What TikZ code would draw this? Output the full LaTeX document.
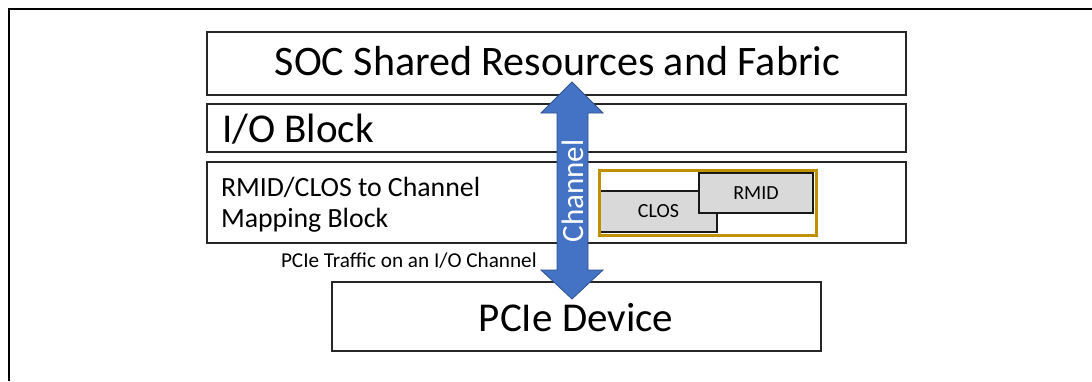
\documentclass[tikz,border=0pt]{standalone}
\usepackage{fontspec}
\setmainfont{Carlito}
\definecolor{arrowblue}{HTML}{4472C4}
\definecolor{arrowedge}{HTML}{2F528F}
\definecolor{goldline}{HTML}{BF9000}
\definecolor{tagfill}{HTML}{D9D9D9}
\begin{document}
\begin{tikzpicture}[x=1pt,y=-1pt,
  blockbox/.style={draw=black!85, line width=1.4pt, fill=white, inner sep=0pt, outer sep=0pt},
  tagbox/.style={draw=black!90, line width=1.3pt, fill=tagfill, inner sep=0pt, outer sep=0pt, font=\fontsize{20}{24}\selectfont},
  goldbox/.style={draw=goldline, line width=3pt, inner sep=0pt},
  txt/.style={inner sep=0pt, outer sep=0pt, text=black},
  bigtxt/.style={txt, font=\fontsize{41}{49}\selectfont}]
\useasboundingbox (0,0) rectangle (1092,381);
% outer frame
\draw[line width=2.5pt] (9,381) -- (9,9) -- (1092,9);
% blocks
\node[blockbox, minimum width=699pt, minimum height=63pt] (soc) at (556.5,63.5) {};
\node[blockbox, minimum width=699pt, minimum height=48pt] (io) at (556.5,128) {};
\node[blockbox, minimum width=699pt, minimum height=81pt] (map) at (556.5,202.5) {};
\node[blockbox, minimum width=489pt, minimum height=69pt] (pcie) at (576.5,316.5) {};
% texts
\node[txt, anchor=base, font=\fontsize{42}{50}\selectfont] (soctext) at (557.5,75) {SOC Shared Resources and Fabric};
\node[bigtxt, anchor=base west] (iotext) at (222,142) {I/O Block};
\node[txt, anchor=base west, font=\fontsize{27.8}{31}\selectfont] (maptext1) at (221,196) {RMID/CLOS to Channel};
\node[txt, anchor=base west, font=\fontsize{27.8}{31}\selectfont] (maptext2) at (221,227) {Mapping Block};
\node[txt, anchor=base west, font=\fontsize{21.2}{25}\selectfont] (traffic) at (281,267) {PCIe Traffic on an I/O Channel};
\node[bigtxt, anchor=base] (pcietext) at (576,331) {PCIe Device};
% tags
\node[tagbox, minimum width=117pt, minimum height=41pt] (clos) at (658.5,211.5) {CLOS};
\node[tagbox, minimum width=114pt, minimum height=40pt] (rmid) at (756,193) {RMID};
\node[goldbox, minimum width=217pt, minimum height=65pt] (gold) at (707.5,202.5) {};
% channel arrow
\filldraw[fill=arrowblue, draw=arrowedge, line width=0.8pt, line join=miter]
  (572,82) -- (603,113) -- (588,113) -- (588,270) -- (603,270) -- (572,299)
  -- (541,270) -- (557,270) -- (557,113) -- (541,113) -- cycle;
\node[txt, rotate=90, text=white, font=\fontsize{31}{36}\selectfont] (chantext) at (573,191) {Channel};
\end{tikzpicture}
\end{document}
